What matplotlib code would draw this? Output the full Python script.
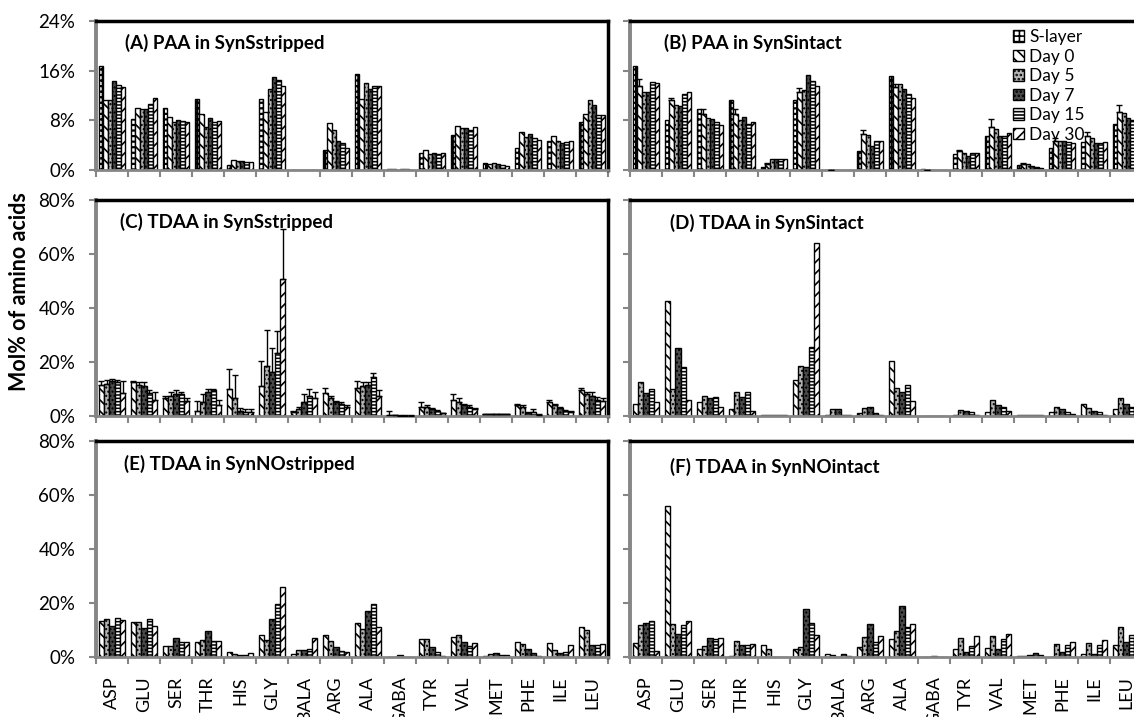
import numpy as np
import matplotlib
matplotlib.use('Agg')
import matplotlib.pyplot as plt

plt.rcParams['font.family'] = ['Lato', 'DejaVu Sans']
plt.rcParams['hatch.linewidth'] = 1.1

amino_acids = ['ASP', 'GLU', 'SER', 'THR', 'HIS', 'GLY', 'BALA', 'ARG',
               'ALA', 'GABA', 'TYR', 'VAL', 'MET', 'PHE', 'ILE', 'LEU']
paa_series = ['S-layer', 'Day 0', 'Day 5', 'Day 7', 'Day 15', 'Day 30']
tdaa_series = ['Day 0', 'Day 5', 'Day 7', 'Day 15', 'Day 30']

# (A) PAA in SynSstripped: rows = amino acids, cols = paa_series (mol %)
paa_stripped = [
    [16.8, 11.3, 11.3, 14.3, 13.7, 13.4],
    [8.2, 10.0, 9.8, 9.8, 10.7, 11.6],
    [10.0, 8.6, 7.7, 8.0, 7.9, 7.7],
    [11.4, 9.0, 6.9, 8.4, 7.7, 7.9],
    [0.8, 1.6, 1.5, 1.4, 1.25, 1.25],
    [11.4, 9.3, 13.1, 15.0, 14.5, 13.6],
    [0.0, 0.0, 0.0, 0.0, 0.0, 0.0],
    [3.3, 7.6, 6.5, 4.6, 4.3, 3.6],
    [15.4, 11.5, 14.0, 13.0, 13.5, 13.5],
    [0.2, 0.1, 0.0, 0.2, 0.1, 0.0],
    [2.7, 3.3, 2.6, 2.8, 2.5, 2.8],
    [5.6, 7.1, 6.7, 6.7, 6.4, 6.9],
    [1.2, 0.9, 1.1, 1.0, 0.8, 0.7],
    [3.6, 6.1, 5.3, 5.8, 5.2, 4.8],
    [4.6, 5.4, 4.6, 4.4, 4.5, 4.7],
    [7.8, 9.0, 11.3, 10.4, 8.8, 8.8],
]

# (B) PAA in SynSintact
paa_intact = [
    [16.8, 13.5, 12.5, 12.5, 14.1, 14.0],
    [8.0, 11.2, 10.5, 10.3, 12.3, 12.5],
    [9.8, 9.0, 8.4, 8.2, 7.7, 7.3],
    [11.2, 9.0, 8.1, 8.5, 7.4, 7.7],
    [0.5, 1.0, 1.7, 1.7, 1.8, 1.8],
    [11.2, 12.5, 12.9, 15.3, 14.4, 13.6],
    [0.0, 0.0, 0.0, 0.0, 0.0, 0.0],
    [3.1, 5.8, 5.6, 3.9, 4.7, 4.6],
    [15.2, 13.3, 13.9, 13.1, 12.3, 11.6],
    [0.1, 0.05, 0.0, 0.0, 0.0, 0.0],
    [2.6, 3.1, 2.7, 2.3, 2.7, 2.7],
    [5.4, 6.9, 6.6, 5.5, 5.5, 6.0],
    [0.8, 1.0, 1.0, 0.7, 0.5, 0.4],
    [3.5, 4.7, 4.6, 4.7, 4.5, 4.4],
    [4.5, 5.5, 5.1, 4.4, 4.4, 4.5],
    [7.4, 9.3, 9.2, 8.3, 8.0, 7.8],
]
# error (upper) on the Day 0 bars of panel B
paa_intact_err_day0 = [1.2, 0.4, 0.8, 0.9, 0.1, 0.7, 0.0, 0.6,
                       0.6, 0.0, 0.2, 1.3, 0.1, 0.4, 0.7, 1.1]

# (C) TDAA in SynSstripped: cols = tdaa_series
tdaa_s_stripped = [
    [11.5, 12.0, 13.0, 12.5, 8.5],
    [12.5, 11.5, 11.0, 8.5, 6.0],
    [6.5, 7.5, 8.0, 8.0, 5.5],
    [2.0, 5.0, 9.0, 9.5, 4.0],
    [10.0, 6.5, 2.0, 1.5, 1.5],
    [11.0, 18.7, 16.3, 23.5, 50.8],
    [1.5, 2.5, 5.0, 7.5, 6.5],
    [8.5, 6.5, 5.0, 4.5, 3.5],
    [10.5, 11.0, 11.5, 14.5, 7.5],
    [0.3, 0.2, 0.1, 0.1, 0.1],
    [3.5, 3.5, 2.5, 1.8, 1.0],
    [6.0, 5.0, 4.0, 3.5, 2.5],
    [0.8, 0.8, 0.8, 0.8, 0.7],
    [4.0, 3.5, 1.0, 1.5, 0.5],
    [5.0, 4.0, 3.0, 2.0, 1.5],
    [9.5, 8.0, 7.5, 6.0, 5.5],
]
tdaa_s_stripped_err = [
    [1.5, 1.5, 0.8, 1.0, 4.5],
    [0.5, 1.0, 1.5, 1.0, 3.0],
    [1.0, 1.5, 1.5, 1.0, 1.0],
    [3.5, 3.0, 1.0, 0.5, 2.0],
    [7.5, 8.5, 1.0, 1.0, 1.0],
    [9.5, 13.0, 9.0, 8.0, 18.5],
    [0.5, 1.0, 3.0, 2.5, 2.5],
    [2.0, 1.0, 0.5, 0.5, 0.5],
    [2.5, 1.5, 1.0, 1.5, 2.0],
    [1.5, 0.2, 0.1, 0.1, 0.1],
    [1.5, 0.5, 0.3, 0.3, 0.2],
    [2.0, 1.5, 0.5, 0.5, 0.5],
    [0.1, 0.1, 0.1, 0.1, 0.1],
    [0.5, 0.5, 0.3, 1.0, 0.2],
    [1.0, 0.5, 0.5, 0.3, 0.3],
    [1.0, 1.0, 1.5, 1.0, 1.0],
]

# (D) TDAA in SynSintact
tdaa_s_intact = [
    [4.5, 12.5, 8.5, 10.0, 5.0],
    [42.5, 10.0, 25.0, 18.0, 6.0],
    [5.0, 7.5, 6.8, 7.2, 3.5],
    [2.5, 9.0, 7.0, 9.0, 2.0],
    [0.5, 0.5, 0.4, 0.3, 0.3],
    [13.5, 18.5, 18.0, 25.5, 64.0],
    [0.5, 2.5, 2.5, 0.3, 0.2],
    [1.0, 2.8, 3.5, 1.2, 0.5],
    [20.5, 10.5, 9.0, 11.5, 5.5],
    [0.1, 0.1, 0.1, 0.1, 0.1],
    [0.5, 2.3, 1.8, 1.3, 0.5],
    [1.5, 5.8, 4.0, 3.5, 2.0],
    [0.5, 0.5, 0.5, 0.3, 0.3],
    [1.5, 3.5, 2.5, 1.5, 0.8],
    [4.5, 3.0, 2.0, 1.5, 0.5],
    [2.5, 6.5, 4.5, 3.5, 3.0],
]

# (E) TDAA in SynNOstripped
tdaa_no_stripped = [
    [13.3, 13.9, 11.4, 14.3, 13.6],
    [13.0, 13.0, 10.8, 13.9, 11.4],
    [4.2, 4.2, 7.1, 5.6, 5.6],
    [5.6, 6.2, 9.8, 5.8, 5.8],
    [1.9, 1.1, 0.6, 0.6, 1.5],
    [8.3, 6.3, 14.0, 19.5, 26.0],
    [1.1, 2.7, 2.7, 3.1, 7.1],
    [8.0, 6.1, 3.7, 2.1, 1.7],
    [12.6, 10.2, 17.0, 19.5, 11.2],
    [0.0, 0.1, 0.9, 0.1, 0.0],
    [6.7, 6.7, 3.7, 1.9, 0.3],
    [7.4, 8.2, 5.5, 4.2, 5.2],
    [0.5, 1.1, 1.6, 0.9, 0.6],
    [5.6, 5.0, 3.0, 1.5, 0.5],
    [5.3, 2.6, 1.6, 2.0, 4.6],
    [11.1, 9.9, 4.6, 4.6, 4.8],
]

# (F) TDAA in SynNOintact
tdaa_no_intact = [
    [5.2, 11.7, 12.5, 13.4, 2.1],
    [56.0, 12.3, 8.6, 11.7, 13.3],
    [2.8, 4.0, 7.2, 6.8, 7.2],
    [0.2, 6.0, 4.6, 4.5, 4.9],
    [4.5, 2.8, 0.1, 0.1, 0.1],
    [2.8, 3.7, 17.9, 12.7, 8.3],
    [1.0, 0.7, 0.1, 1.0, 0.2],
    [3.7, 7.4, 12.3, 5.5, 7.8],
    [6.5, 9.5, 18.9, 11.1, 12.1],
    [0.05, 0.05, 0.2, 0.05, 0.05],
    [3.1, 7.0, 1.9, 4.0, 7.8],
    [3.5, 7.7, 2.8, 6.8, 8.5],
    [0.2, 0.4, 0.6, 1.6, 0.9],
    [0.1, 4.8, 1.9, 4.6, 5.6],
    [1.2, 5.3, 1.2, 4.3, 6.2],
    [4.5, 11.2, 5.5, 8.0, 7.0],
]

styles = {
    'S-layer': dict(facecolor='white', hatch='+++', hlw=1.6),
    'Day 0': dict(facecolor='white', hatch='\\\\\\', hlw=1.2),
    'Day 5': dict(facecolor='#b4b4b4', hatch='....', hlw=1.0),
    'Day 7': dict(facecolor='#4a4a4a', hatch='....', hlw=1.0),
    'Day 15': dict(facecolor='white', hatch='-----', hlw=1.1),
    'Day 30': dict(facecolor='white', hatch='///', hlw=1.2),
}

GRAY = '#868686'

fig = plt.figure(figsize=(11.34, 7.17), dpi=100)
W, H = 1134.0, 717.0


def make_ax(x0, top, bottom, width=512):
    return fig.add_axes([x0 / W, 1 - bottom / H, width / W, (bottom - top) / H])


def draw(ax, data, series, ymax, ystep, title, tx, ty, errs=None,
         err_series=None, ylabels=True, xlabels=False):
    data = np.asarray(data, dtype=float)
    n = len(series)
    width = 0.84 / n
    x = np.arange(len(amino_acids)) + 0.5
    handles = []
    for i, s in enumerate(series):
        st = styles[s]
        plt.rcParams['hatch.linewidth'] = st['hlw']
        pos = x + (i - (n - 1) / 2) * width
        b = ax.bar(pos, data[:, i], width=width, edgecolor='black',
                   linewidth=1.0, label=s, zorder=2,
                   facecolor=st['facecolor'], hatch=st['hatch'])
        for p in b.patches:
            if hasattr(p, 'set_hatch_linewidth'):
                p.set_hatch_linewidth(st['hlw'])
        handles.append(b)
        e = None
        if errs is not None:
            e = np.asarray(errs, dtype=float)[:, i]
        elif err_series is not None and s == 'Day 0':
            e = np.asarray(err_series, dtype=float)
        if e is not None:
            ax.errorbar(pos, data[:, i], yerr=[np.zeros_like(e), e],
                        fmt='none', ecolor='black', elinewidth=1.0,
                        capsize=2.5, capthick=1.0, zorder=3)
    ax.set_xlim(0, len(amino_acids))
    ax.set_ylim(0, ymax)
    yt = np.arange(0, ymax + 0.01, ystep)
    ax.set_yticks(yt)
    if ylabels:
        ax.set_yticklabels(['%d%%' % v for v in yt], fontsize=13.5)
    else:
        ax.set_yticklabels([])
    ax.set_xticks(np.arange(len(amino_acids) + 1))
    ax.set_xticklabels([])
    ax.set_xticks(x, minor=True)
    if xlabels:
        ax.set_xticklabels(amino_acids, minor=True, rotation=90,
                           fontsize=13, va='top', ha='center')
    else:
        ax.set_xticklabels([], minor=True)
    ax.tick_params(axis='both', which='major', direction='out', length=5,
                   width=1.5, color=GRAY, pad=10)
    ax.tick_params(axis='x', which='minor', length=0, pad=14)
    for side in ['top', 'right']:
        ax.spines[side].set_color('black')
        ax.spines[side].set_linewidth(2.5)
    ax.spines['left'].set_color(GRAY)
    ax.spines['left'].set_linewidth(2.8)
    ax.spines['bottom'].set_color(GRAY)
    ax.spines['bottom'].set_linewidth(2.0)
    ax.text(tx, ty, title, transform=ax.transAxes, fontsize=13.5,
            fontweight='bold', ha='left', va='center')
    return handles


LX, RX = 96, 630
axA = make_ax(LX, 21, 170)
axB = make_ax(RX, 21, 170)
axC = make_ax(LX, 200, 416)
axD = make_ax(RX, 200, 416)
axE = make_ax(LX, 441, 657)
axF = make_ax(RX, 441, 657)

draw(axA, paa_stripped, paa_series, 24, 8, '(A) PAA in SynSstripped', 0.057, 0.85)
hB = draw(axB, paa_intact, paa_series, 24, 8, '(B) PAA in SynSintact', 0.066, 0.85,
          err_series=paa_intact_err_day0, ylabels=False)
draw(axC, tdaa_s_stripped, tdaa_series, 80, 20, '(C) TDAA in SynSstripped', 0.047, 0.9,
     errs=tdaa_s_stripped_err)
draw(axD, tdaa_s_intact, tdaa_series, 80, 20, '(D) TDAA in SynSintact', 0.078, 0.895,
     ylabels=False)
draw(axE, tdaa_no_stripped, tdaa_series, 80, 20, '(E) TDAA in SynNOstripped', 0.055, 0.895,
     xlabels=True)
draw(axF, tdaa_no_intact, tdaa_series, 80, 20, '(F) TDAA in SynNOintact', 0.078, 0.88,
     ylabels=False, xlabels=True)

leg = axB.legend(hB, paa_series, loc='upper left', bbox_to_anchor=(0.748, 0.945),
                 frameon=False, fontsize=12.5, handlelength=0.65, handleheight=0.65,
                 handletextpad=0.3, labelspacing=0.2, borderpad=0, borderaxespad=0)
leg.set_zorder(5)

fig.text(20 / W, 1 - 292 / H, 'Mol% of amino acids', rotation=90,
         fontsize=15.5, fontweight='bold', ha='center', va='center')

fig.savefig('out.png', dpi=100)
